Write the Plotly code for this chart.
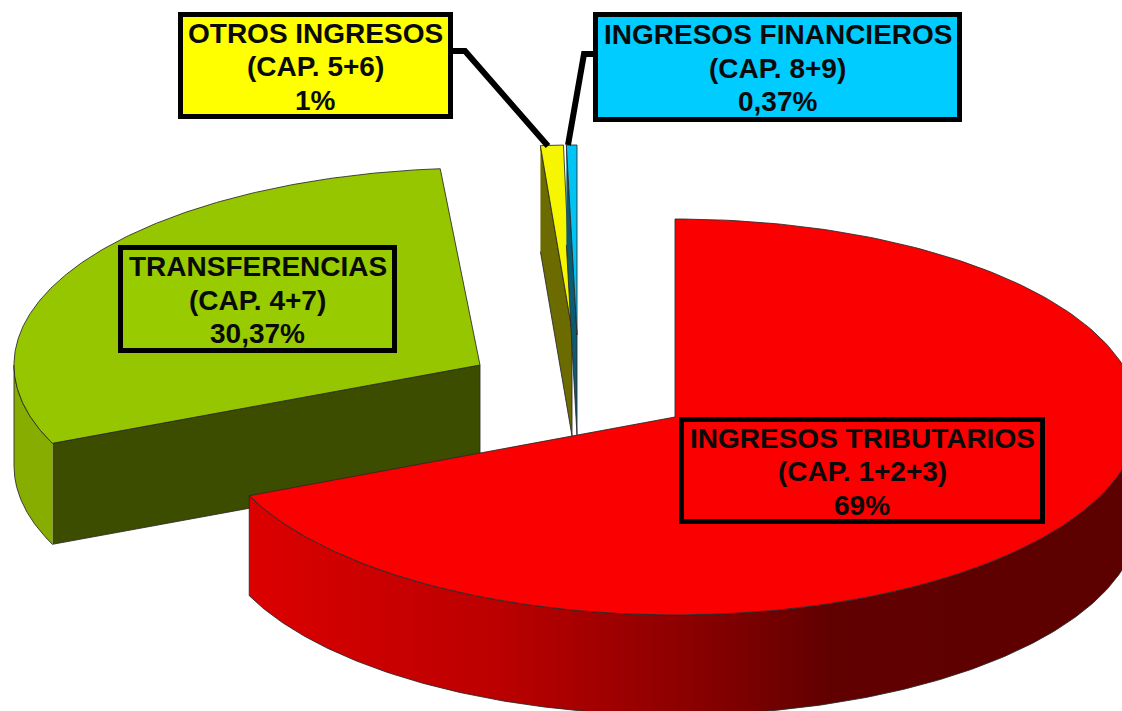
import numpy as np
import plotly.graph_objects as go

# ---- data ----
categories = ["INGRESOS TRIBUTARIOS", "TRANSFERENCIAS", "OTROS INGRESOS", "INGRESOS FINANCIEROS"]
chapters = ["(CAP. 1+2+3)", "(CAP. 4+7)", "(CAP. 5+6)", "(CAP. 8+9)"]
values = [69, 30.37, 1, 0.37]
value_labels = ["69%", "30,37%", "1%", "0,37%"]

# ---- presentation ----
W, H = 1122, 711
# centre x, centre y, semi-axis a, semi-axis b, wall depth (exploded 3D pie geometry)
geom = [
    (675, 417, 464, 198, 100),
    (480, 365, 466, 197, 101),
    (572, 330, 370, 185, 106),
    (577, 335, 461, 190, 100),
]
top_colors = ["#fa0000", "#95c600", "#f6f600", "#00c4f6"]
face_colors = ["#cc0000", "#3d4d00", "#6b6b00", "#0b5c72"]
wall_colors = ["#cc0000", "#86ad00", "#6b6b00", "#0b5c72"]
box_colors = ["#fa0000", "#99cc00", "#ffff00", "#00ccff"]
# box left, top, right, bottom (centre of the border)
boxes = [
    (681.5, 419.5, 1042.5, 521.5),
    (120.5, 247.5, 394.5, 350.5),
    (180.5, 14.5, 450.5, 116.5),
    (595.5, 14.5, 959.5, 119.5),
]
draw_order = [1, 2, 3, 0]
OUTLINE = "rgba(40,40,40,0.85)"
LINE_STEP = 33.5

total = sum(values)
edges = np.concatenate([[0], np.cumsum(values)]) / total * 360


def arc(g, t0, t1, dz=0, n=240):
    t = np.radians(np.linspace(t0, t1, n))
    return g[0] + g[2] * np.sin(t), g[1] - g[3] * np.cos(t) + dz


def poly(fig, x, y, color=None, gradient=None):
    kw = dict(fillgradient=gradient) if gradient else dict(fillcolor=color)
    fig.add_trace(go.Scatter(x=x, y=y, mode="lines", fill="toself",
                             line=dict(color=OUTLINE, width=1), hoverinfo="skip",
                             showlegend=False, **kw))


fig = go.Figure()
for i in draw_order:
    g = geom[i]
    t0, t1 = edges[i], edges[i + 1]
    d = g[4]
    # cut face at the slice start (hidden when the slice starts at the top)
    if t0 > 180:
        sx, sy = arc(g, t0, t0, n=1)
        poly(fig, [sx[0], g[0], g[0], sx[0]], [sy[0], g[1], g[1] + d, sy[0] + d], face_colors[i])
    # outer wall (only the front half of the rim is visible)
    lo, hi = max(t0, 90), min(t1, 270)
    if hi > lo:
        ux, uy = arc(g, lo, hi)
        lx, ly = arc(g, hi, lo, d)
        grad = None
        if i == 0:
            grad = dict(type="horizontal", colorscale=[
                [0, "#dc0000"], [0.28, "#bb0000"], [0.5, "#8a0000"],
                [0.65, "#620000"], [1, "#5c0000"]])
        poly(fig, np.r_[ux, lx], np.r_[uy, ly], wall_colors[i], grad)
    # top face
    ax, ay = arc(g, t0, t1)
    poly(fig, np.r_[g[0], ax, g[0]], np.r_[g[1], ay, g[1]], top_colors[i])

leader = dict(type="path", xref="x", yref="y", line=dict(color="#000000", width=6))
shapes = [
    dict(path="M 453 51 L 465 51 L 548 146", **leader),
    dict(path="M 595 54 L 584 54 L 568 145", **leader),
]

# labels: a bordered box and three real text lines
for i in range(len(categories)):
    x0, y0, x1, y1 = boxes[i]
    shapes.append(dict(type="rect", xref="x", yref="y", x0=x0, y0=y0, x1=x1, y1=y1,
                       fillcolor=box_colors[i], line=dict(color="#000000", width=5)))
    lines = [categories[i], chapters[i], value_labels[i]]
    for k, txt in enumerate(lines):
        fig.add_annotation(
            x=(x0 + x1) / 2, y=(y0 + y1) / 2 + (k - 1) * LINE_STEP + 1,
            xref="x", yref="y", xanchor="center", yanchor="middle", showarrow=False,
            text=f"<b>{txt}</b>",
            font=dict(family="Liberation Sans", size=28, color="#0a0a0a"),
        )

fig.update_layout(
    width=W, height=H, margin=dict(l=0, r=0, t=0, b=0),
    paper_bgcolor="white", plot_bgcolor="white", showlegend=False,
    xaxis=dict(range=[0, W], visible=False, fixedrange=True),
    yaxis=dict(range=[H, 0], visible=False, fixedrange=True),
    shapes=shapes,
)
fig.write_html("out.html", config={"displayModeBar": False},
               post_script="document.body.style.margin='0';document.body.style.overflow='hidden';")
